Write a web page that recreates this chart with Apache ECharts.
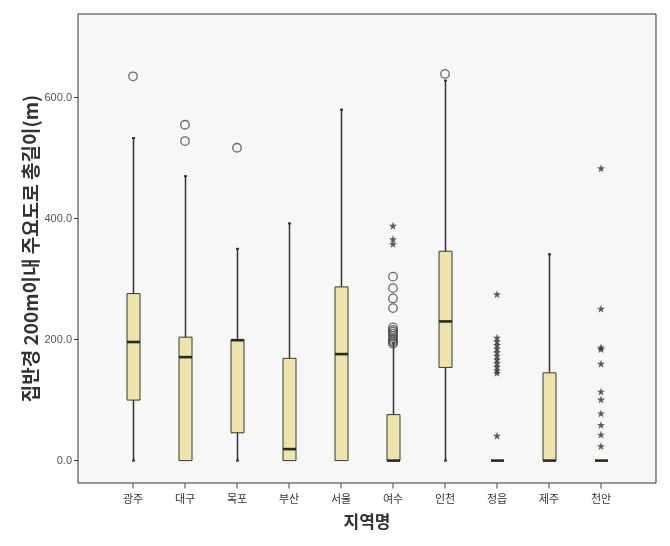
<!DOCTYPE html>
<html>
<head>
<meta charset="utf-8">
<script src="https://cdn.jsdelivr.net/npm/echarts@6/dist/echarts.min.js"></script>
<style>html,body{margin:0;padding:0;background:#fff;}#c{width:670px;height:546px;}</style>
</head>
<body>
<div id="c"></div>
<script>
const categories = ['광주','대구','목포','부산','서울','여수','인천','정읍','제주','천안'];
const lowWhisker  = [0, 0, 0, 0, 0, 0, 0, 0, 0, 0];
const q1          = [100, 0, 46, 0, 0, 0, 154, 0, 0, 0];
const median      = [196, 171, 199, 19, 176, 0, 230, 0, 0, 0];
const q3          = [276, 204, 200, 169, 287, 76, 346, 0, 145, 0];
const highWhisker = [533, 470, 350, 392, 580, 195, 628, 0, 341, 0];

const circleOutliers = [
  ['광주', 635],
  ['대구', 555], ['대구', 528],
  ['목포', 517],
  ['여수', 304], ['여수', 285], ['여수', 268], ['여수', 252],
  ['여수', 220], ['여수', 216], ['여수', 213], ['여수', 210], ['여수', 206],
  ['여수', 202], ['여수', 199], ['여수', 196], ['여수', 193],
  ['인천', 639]
];
const starOutliers = [
  ['여수', 388], ['여수', 366], ['여수', 358],
  ['정읍', 275], ['정읍', 203], ['정읍', 197], ['정읍', 191], ['정읍', 185],
  ['정읍', 179], ['정읍', 173], ['정읍', 167], ['정읍', 161], ['정읍', 155],
  ['정읍', 149], ['정읍', 145], ['정읍', 41],
  ['천안', 483], ['천안', 251], ['천안', 187], ['천안', 184], ['천안', 160],
  ['천안', 114], ['천안', 101], ['천안', 78], ['천안', 59], ['천안', 43], ['천안', 24]
];
const yTicks = [0, 200, 400, 600];
const yMin = -37, yMax = 738;

const boxData = categories.map((c, i) => [i, lowWhisker[i], q1[i], median[i], q3[i], highWhisker[i]]);
const tickMarks = categories.map(c => [c, yMin]);

const STAR = 'path://M50,0 L61.8,35.1 L98.9,35.1 L68.9,56.9 L80.3,91.9 L50,70.2 L19.7,91.9 L31.1,56.9 L1.1,35.1 L38.2,35.1 Z';

function renderBox(params, api) {
  const x = api.value(0);
  const pLo = api.coord([x, api.value(1)]);
  const pQ1 = api.coord([x, api.value(2)]);
  const pMed = api.coord([x, api.value(3)]);
  const pQ3 = api.coord([x, api.value(4)]);
  const pHi = api.coord([x, api.value(5)]);
  const cx = Math.round(pMed[0]) + 0.5;
  const hw = 6.5;
  const line = { stroke: '#333', lineWidth: 1.5 };
  const children = [];
  if (pHi[1] < pQ3[1] - 0.5) {
    children.push({ type: 'line', shape: { x1: cx, y1: pHi[1], x2: cx, y2: pQ3[1] }, style: line });
    children.push({ type: 'line', shape: { x1: cx - 1.5, y1: pHi[1], x2: cx + 1.5, y2: pHi[1] }, style: { stroke: '#333', lineWidth: 2 } });
  }
  if (pLo[1] > pQ1[1] + 0.5) {
    children.push({ type: 'line', shape: { x1: cx, y1: pQ1[1], x2: cx, y2: pLo[1] }, style: line });
    children.push({ type: 'line', shape: { x1: cx - 1.5, y1: pLo[1], x2: cx + 1.5, y2: pLo[1] }, style: { stroke: '#333', lineWidth: 2 } });
  }
  if (pQ1[1] - pQ3[1] > 0.5) {
    children.push({ type: 'rect', shape: { x: cx - hw, y: pQ3[1], width: 2 * hw, height: pQ1[1] - pQ3[1] },
      style: { fill: '#ebe4b1', stroke: '#3a3a2a', lineWidth: 1 } });
  }
  children.push({ type: 'line', shape: { x1: cx - hw, y1: pMed[1], x2: cx + hw, y2: pMed[1] },
    style: { stroke: '#2b2a1e', lineWidth: 2.6 } });
  return { type: 'group', children: children };
}

const chart = echarts.init(document.getElementById('c'), null, { renderer: 'canvas' });
chart.setOption({
  animation: false,
  backgroundColor: '#ffffff',
  grid: [
    { left: 78, right: 14, top: 14, bottom: 63, show: true, backgroundColor: '#f7f7f7', borderColor: '#333', borderWidth: 1 },
    { left: 107, right: 43, top: 14, bottom: 63 }
  ],
  xAxis: [
    { gridIndex: 0, type: 'value', show: false, min: 0, max: 1 },
    { gridIndex: 1, type: 'category', data: categories, position: 'bottom',
      axisLine: { show: false, onZero: false },
      axisTick: { show: false },
      axisLabel: { fontSize: 11, color: '#333', margin: 10, interval: 0, fontFamily: 'Noto Sans CJK KR' },
      name: '지역명', nameLocation: 'middle', nameGap: 30,
      nameTextStyle: { fontSize: 17, fontWeight: 'bold', color: '#333', fontFamily: 'Noto Sans CJK KR' },
      splitLine: { show: false } }
  ],
  yAxis: [
    { gridIndex: 0, type: 'value', min: yMin, max: yMax,
      axisLine: { show: false, onZero: false },
      axisTick: { show: true, length: 4, customValues: yTicks, lineStyle: { color: '#333' } },
      axisLabel: { customValues: yTicks, fontSize: 11, color: '#555', margin: 6, fontFamily: 'Liberation Sans',
        formatter: v => v.toFixed(1) },
      splitLine: { show: false },
      name: '집반경 200m이내 주요도로 총길이(m)', nameLocation: 'middle', nameRotate: 90, nameGap: 38,
      nameMoveOverlap: false,
      nameTextStyle: { fontSize: 19, fontWeight: 'bold', color: '#333', fontFamily: 'Noto Sans CJK KR' } },
    { gridIndex: 1, type: 'value', min: yMin, max: yMax, show: false, splitLine: { show: false } }
  ],
  series: [
    { type: 'custom', xAxisIndex: 1, yAxisIndex: 1, data: boxData, renderItem: renderBox,
      encode: { x: 0, y: [1, 2, 3, 4, 5] }, z: 2 },
    { type: 'scatter', xAxisIndex: 1, yAxisIndex: 1, data: circleOutliers, symbol: 'circle', symbolSize: 8.5,
      itemStyle: { color: 'rgba(0,0,0,0)', borderColor: '#444', borderWidth: 1.3 }, z: 3 },
    { type: 'scatter', xAxisIndex: 1, yAxisIndex: 1, data: starOutliers, symbol: STAR, symbolSize: 8,
      itemStyle: { color: '#333' }, z: 3 },
    { type: 'scatter', xAxisIndex: 1, yAxisIndex: 1, data: tickMarks, symbol: 'rect', symbolSize: [1.2, 5],
      symbolOffset: [0, 3], clip: false, silent: true, itemStyle: { color: '#333' }, z: 5 }
  ]
});
</script>
</body>
</html>
